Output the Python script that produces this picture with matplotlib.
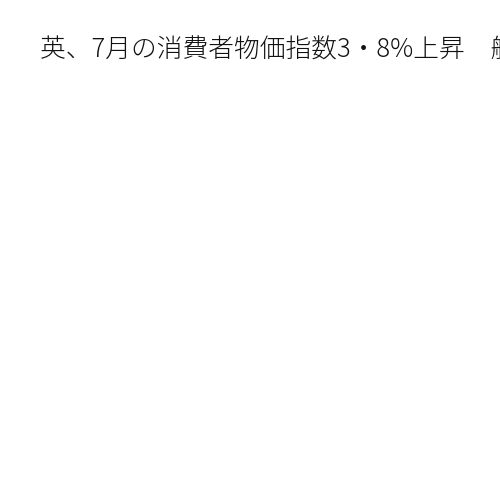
import matplotlib
matplotlib.use("Agg")
import matplotlib.pyplot as plt

plt.rcParams['font.family'] = ['Noto Sans CJK JP', 'DejaVu Sans']

title = "英、7月の消費者物価指数3・8%上昇　航空運賃などが押し上げ"

fig = plt.figure(figsize=(5, 5), dpi=100)
fig.patch.set_facecolor("white")
fig.text(40 / 500, 1 - 50 / 500, title, fontsize=18.5, ha="left", va="center",
         color="#111111", fontweight="light")
fig.savefig("out.png", dpi=100, facecolor="white")
